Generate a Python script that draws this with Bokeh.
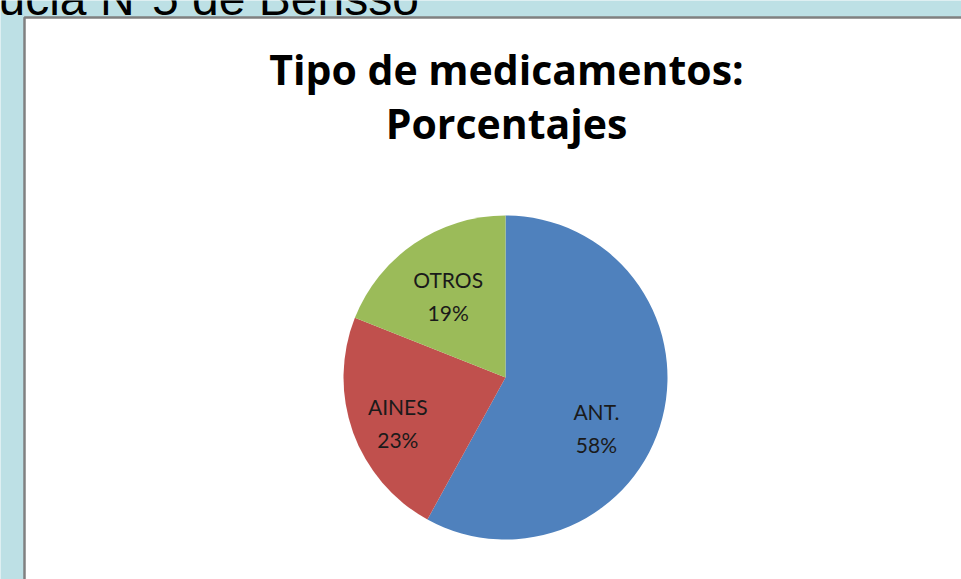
import numpy as np
from bokeh.plotting import figure
from bokeh.models import Range1d, ColumnDataSource
from bokeh.core.properties import value
from bokeh.embed import file_html
from bokeh.resources import INLINE

# ---- data ----
categories = ["ANT.", "AINES", "OTROS"]
percentages = [58, 23, 19]
colors = ["#4F81BD", "#C0504D", "#9BBB59"]
title_lines = ["Tipo de medicamentos:", "Porcentajes"]
header_text = "ucia N\u00ba5 de Bensso"

# ---- layout constants ----
W, H = 961, 579
cx, cy_s, R = 505, 377, 162          # pie centre (screen y) and radius
label_angle_deg = [-29, -157, 125]   # label placement (best-fit style)
label_dist = [104, 117, 100]
label_gap = 16.5

def Y(ys):
    return H - ys

p = figure(width=W, height=H, output_backend="svg", toolbar_location=None,
           x_range=Range1d(0, W), y_range=Range1d(0, H), min_border=0,
           background_fill_color="#BDE0E5", border_fill_color="#BDE0E5",
           outline_line_color=None)
p.axis.visible = False
p.grid.visible = False

# header text, partially cut off at the top (as in the source slide)
p.text(x=[-2], y=[Y(-2)], text=[header_text], text_font=value("Liberation Sans"),
       text_font_size="48px", text_color="#000000", text_baseline="alphabetic",
       text_align="left")

# white panel
p.quad(left=[24], right=[W + 20], top=[Y(17)], bottom=[-20],
       fill_color="#FFFFFF", line_color="#808080", line_width=2.5)

# title
for i, line in enumerate(title_lines):
    p.text(x=[506], y=[Y(68 + 54 * i)], text=[line], text_font=value("Open Sans"),
           text_font_style="bold", text_font_size="41px", text_color="#000000",
           text_align="center", text_baseline="middle")

# pie
vals = np.array(percentages, dtype=float)
frac = vals / vals.sum()
ends = np.pi / 2 - 2 * np.pi * np.cumsum(frac)
starts = np.concatenate([[np.pi / 2], ends[:-1]])
src = ColumnDataSource(dict(start=starts, end=ends, color=colors, cat=categories))
p.wedge(x=cx, y=Y(cy_s), radius=R, start_angle="start", end_angle="end",
        direction="clock", fill_color="color", line_color=None, source=src)

# labels (category on first line, percentage on second)
lx, ly1, ly2, t1, t2 = [], [], [], [], []
for cat, pct, a, d in zip(categories, percentages, label_angle_deg, label_dist):
    ar = np.deg2rad(a)
    x0 = cx + d * np.cos(ar)
    y0 = Y(cy_s) + d * np.sin(ar)
    lx.append(x0)
    ly1.append(y0 + label_gap)
    ly2.append(y0 - label_gap)
    t1.append(cat)
    t2.append(f"{pct}%")
for yy, tt in ((ly1, t1), (ly2, t2)):
    p.text(x=lx, y=yy, text=tt, text_font=value("Lato"), text_font_size="21px",
           text_color="#1A1A1A", text_align="center", text_baseline="middle")

open("out.html", "w").write(file_html(p, INLINE))
